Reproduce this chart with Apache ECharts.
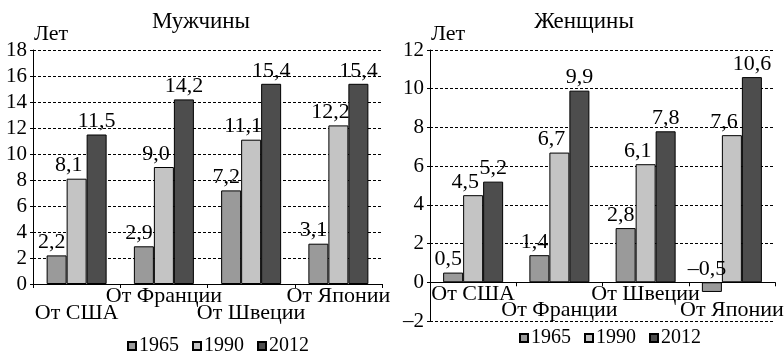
<!DOCTYPE html>
<html>
<head>
<meta charset="utf-8">
<script src="https://cdn.jsdelivr.net/npm/echarts@6/dist/echarts.min.js"></script>
<style>
  html, body { margin: 0; padding: 0; background: #fff; }
  #chart { width: 784px; height: 351px; }
</style>
</head>
<body>
<div id="chart"></div>
<script>
// categories
const menCats = ['От США', 'От Франции', 'От Швеции', 'От Японии'];
const womenCats = ['От США', 'От Франции', 'От Швеции', 'От Японии'];
const years = ['1965', '1990', '2012'];

// values, years
const men1965 = [2.2, 2.9, 7.2, 3.1];
const men1990 = [8.1, 9.0, 11.1, 12.2];
const men2012 = [11.5, 14.2, 15.4, 15.4];
const women1965 = [0.5, 1.4, 2.8, -0.5];
const women1990 = [4.5, 6.7, 6.1, 7.6];
const women2012 = [5.2, 9.9, 7.8, 10.6];

const FONT = 'Liberation Serif';
const colors = ['#9a9a9a', '#c4c4c4', '#4d4d4d'];
const labelShift = [-5, -8, 0];

const fmt = p => (p.value < 0 ? '\u2013' : '') + Math.abs(p.value).toFixed(1).replace('.', ',');

function bars(idx, data, k) {
  return {
    name: years[k],
    type: 'bar',
    xAxisIndex: idx,
    yAxisIndex: idx,
    data: data,
    barWidth: 20,
    barGap: '0%',
    itemStyle: { color: colors[k], borderColor: '#000', borderWidth: 1 },
    label: {
      show: true,
      position: 'top',
      distance: 2,
      offset: [labelShift[k], 0],
      formatter: fmt,
      fontFamily: FONT,
      fontSize: 22,
      color: '#000'
    },
    emphasis: { disabled: true },
    animation: false
  };
}

// labels alternate between two rows
function xAx(idx, cats, lowerOdd, margin, lh) {
  return {
    type: 'category',
    gridIndex: idx,
    data: cats,
    axisLine: { onZero: true, lineStyle: { color: '#000', width: 1 } },
    axisTick: { show: true, length: 4, lineStyle: { color: '#000' } },
    axisLabel: {
      interval: 0,
      margin: margin,
      fontFamily: FONT,
      fontSize: 22,
      color: '#000',
      lineHeight: lh,
      hideOverlap: false,
      formatter: (v, i) => ((i % 2 === 1) === lowerOdd ? '\n' + v : v)
    }
  };
}

function yAx(idx, min, max) {
  return {
    type: 'value',
    gridIndex: idx,
    min: min,
    max: max,
    interval: 2,
    axisLine: { show: true, lineStyle: { color: '#000', width: 1 } },
    axisTick: { show: true, length: 3, lineStyle: { color: '#000' } },
    axisLabel: {
      margin: 6,
      fontFamily: FONT,
      fontSize: 21,
      color: '#000',
      formatter: v => (v < 0 ? '\u2013' + Math.abs(v) : String(v))
    },
    splitLine: { show: true, lineStyle: { color: '#000', width: 1, type: [3, 2] } }
  };
}

function legend(left, top) {
  return {
    data: years,
    left: left,
    top: top,
    itemWidth: 8,
    itemHeight: 8,
    itemGap: 13,
    icon: 'rect',
    textStyle: { fontFamily: FONT, fontSize: 20, color: '#000', padding: [0, 0, 0, -2] },
    selectedMode: false
  };
}

function txt(x, y, s, align, size) {
  return {
    type: 'text',
    x: x,
    y: y,
    style: {
      text: s,
      fontFamily: FONT,
      fontSize: size,
      fill: '#000',
      align: align,
      verticalAlign: 'middle'
    }
  };
}

const chart = echarts.init(document.getElementById('chart'), null, { renderer: 'canvas' });
chart.setOption({
  animation: false,
  backgroundColor: '#fff',
  grid: [
    { left: 33, right: 402, top: 50, bottom: 67, containLabel: false, outerBoundsMode: 'none' },
    { left: 430, right: 9, top: 50, bottom: 30, containLabel: false, outerBoundsMode: 'none' }
  ],
  xAxis: [
    xAx(0, menCats, false, 4, 17),
    xAx(1, womenCats, true, -35, 16)
  ],
  yAxis: [yAx(0, 0, 18), yAx(1, -2, 12)],
  legend: [legend(122, 331), legend(514, 323)],
  graphic: [
    txt(201, 22, 'Мужчины', 'center', 23),
    txt(34, 34, 'Лет', 'left', 22),
    txt(584, 22, 'Женщины', 'center', 23),
    txt(431, 34, 'Лет', 'left', 22)
  ],
  series: [
    bars(0, men1965, 0),
    bars(0, men1990, 1),
    bars(0, men2012, 2),
    bars(1, women1965, 0),
    bars(1, women1990, 1),
    bars(1, women2012, 2)
  ]
});
</script>
</body>
</html>
